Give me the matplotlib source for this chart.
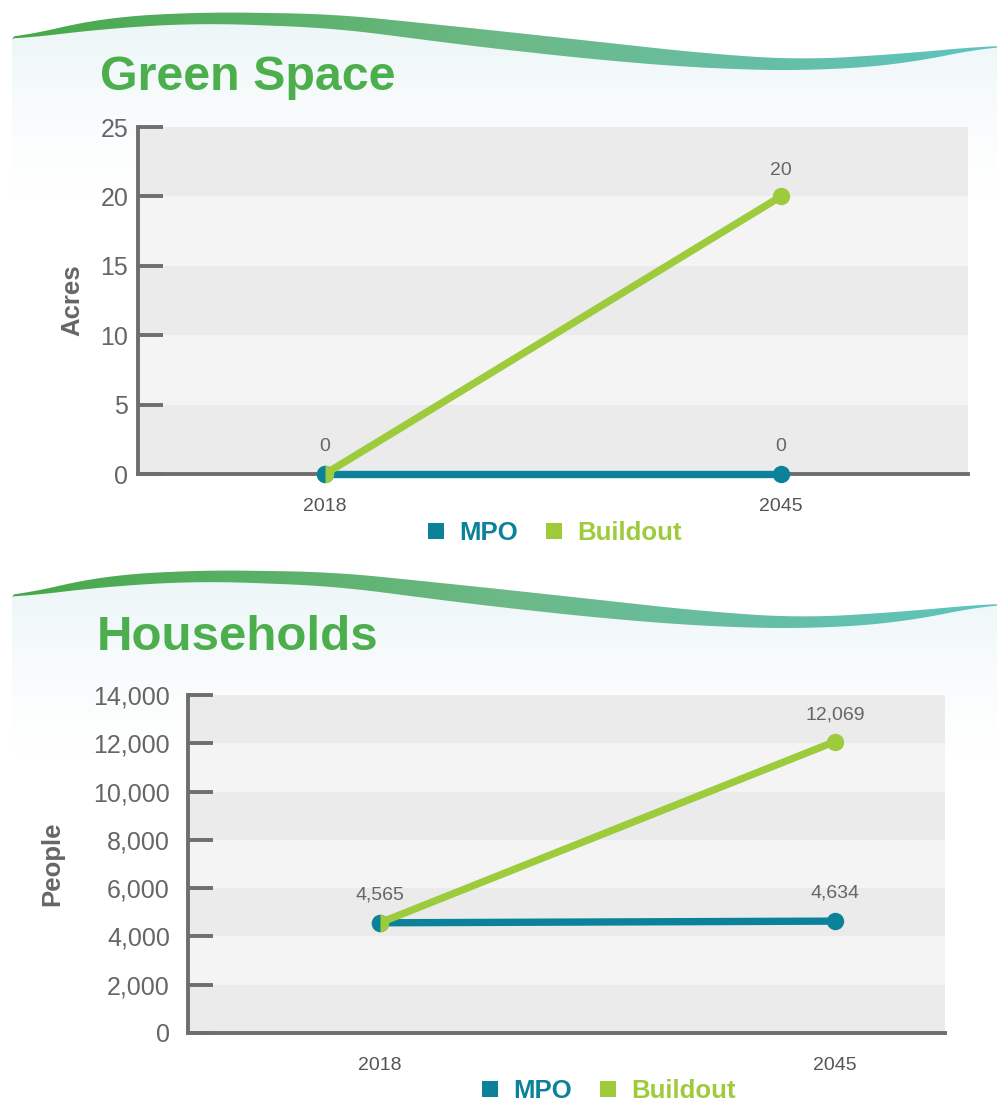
import numpy as np
import matplotlib.pyplot as plt
from matplotlib.path import Path
from matplotlib.patches import PathPatch
from matplotlib.lines import Line2D
from matplotlib.colors import LinearSegmentedColormap
from matplotlib import ticker

plt.rcParams['font.family'] = ['Liberation Sans', 'DejaVu Sans']

# data
years = ['2018', '2045']
green_mpo = [0, 0]
green_buildout = [0, 20]
hh_mpo = [4565, 4634]
hh_buildout = [4565, 12069]

TEAL = '#0b819a'
LIME = '#9dcb3b'
SPINE = '#6e6e6e'
TITLE = '#4cae4c'

W, H = 997, 1103
fig = plt.figure(figsize=(W / 100, H / 100), dpi=100)

# decorative header: wave band + light background
bg = fig.add_axes([0, 0, 1, 1], zorder=0)
bg.axis('off')

wave_x = [12, 60, 100, 200, 333, 480, 600, 700, 800, 900, 997]
wave_up = [40, 27, 18, 12, 14, 29, 42, 53, 60, 54, 45]
wave_lo = [40, 34, 29, 23, 28, 47, 60, 68, 71, 65, 45]
wave_cmap = LinearSegmentedColormap.from_list('wave', ['#46a848', '#6db987', '#5ec4c1'])


def smooth(v, k=25):
    pad = np.pad(v, k, mode='edge')
    ker = np.ones(2 * k + 1) / (2 * k + 1)
    return np.convolve(pad, ker, mode='same')[k:-k]


def header(offset, fade):
    xs = np.linspace(12, 997, 500)
    up = smooth(np.interp(xs, wave_x, wave_up)) + offset
    lo = smooth(np.interp(xs, wave_x, wave_lo)) + offset
    up[0] = lo[0] = 40 + offset
    # light background under the wave
    verts = list(zip(xs, up)) + [(997, offset + fade), (12, offset + fade)]
    patch = PathPatch(Path(verts + [verts[0]], closed=True), fc='none', ec='none')
    bg.add_patch(patch)
    grad = np.zeros((100, 2, 4))
    grad[..., 0], grad[..., 1], grad[..., 2] = 0.925, 0.962, 0.972
    grad[..., 3] = np.linspace(1, 0, 100)[:, None] ** 1.3
    im = bg.imshow(grad, extent=(12, 997, offset + fade, offset + 10), origin='upper',
                   aspect='auto', interpolation='bilinear', zorder=1)
    im.set_clip_path(patch)
    # the wave band
    bverts = list(zip(xs, up)) + list(zip(xs[::-1], lo[::-1]))
    bpatch = PathPatch(Path(bverts + [bverts[0]], closed=True), fc='none', ec='none')
    bg.add_patch(bpatch)
    im2 = bg.imshow(np.linspace(0, 1, 256)[None, :], cmap=wave_cmap,
                    extent=(12, 997, offset + 90, offset), aspect='auto', zorder=2)
    im2.set_clip_path(bpatch)


header(0, 200)
header(558, 200)
bg.set_xlim(0, W)
bg.set_ylim(H, 0)

bg.text(100, 90, 'Green Space', fontsize=34.8, fontweight='bold', color=TITLE, va='baseline')
bg.text(97, 650, 'Households', fontsize=35.5, fontweight='bold', color=TITLE, va='baseline')


def chart(rect, mpo, build, ymax, step, xlim, ylabel, ylabel_x, ypad, legend_xy):
    ax = fig.add_axes(rect, zorder=2)
    ax.patch.set_alpha(0)
    x = np.arange(len(years))
    for i, lo in enumerate(range(0, ymax, step)):
        ax.axhspan(lo, lo + step, color='#ebebeb' if i % 2 == 0 else '#f4f4f4', lw=0, zorder=0)
    ax.plot(x, mpo, color=TEAL, lw=5.3, marker='o', ms=12.5, mew=0, zorder=3, clip_on=False)
    ax.plot(x, build, color=LIME, lw=5.3, marker='o', ms=12.5, mew=0, zorder=4, clip_on=False)
    ax.plot(x[:1], mpo[:1], ls='none', marker='o', ms=12.5, mew=0, color=TEAL, fillstyle='left',
            markerfacecoloralt='none', zorder=5, clip_on=False)
    for xi, v in zip(x, mpo):
        ax.annotate(f'{v:,}', (xi, v), xytext=(0, 20), textcoords='offset points',
                    ha='center', va='center', fontsize=14, color='#666666', zorder=6)
    for xi, v, m in zip(x, build, mpo):
        if v != m:
            ax.annotate(f'{v:,}', (xi, v), xytext=(0, 19), textcoords='offset points',
                        ha='center', va='center', fontsize=14, color='#666666', zorder=6)

    ax.set_xlim(*xlim)
    ax.set_ylim(0, ymax)
    ax.set_yticks(range(0, ymax + 1, step))
    ax.yaxis.set_major_formatter(ticker.StrMethodFormatter('{x:,.0f}'))
    ax.set_xticks(x, years)
    ax.tick_params(axis='y', direction='in', length=18, width=2.8, color=SPINE,
                   labelsize=18, labelcolor='#666666', pad=ypad)
    ax.tick_params(axis='x', length=0, labelsize=14, labelcolor='#555555', pad=17)
    for s in ['top', 'right']:
        ax.spines[s].set_visible(False)
    for s in ['left', 'bottom']:
        ax.spines[s].set_color(SPINE)
        ax.spines[s].set_linewidth(2.8)
    ax.set_ylabel(ylabel, fontsize=18.5, fontweight='bold', color='#666666', va='center')
    ax.yaxis.set_label_coords(ylabel_x, 0.5)

    handles = [Line2D([], [], ls='none', marker='s', ms=12, mew=0, color=TEAL, label='MPO'),
               Line2D([], [], ls='none', marker='s', ms=12, mew=0, color=LIME, label='Buildout')]
    fig.legend(handles=handles, loc='center', bbox_to_anchor=legend_xy, ncol=2, frameon=False,
               prop={'weight': 'bold', 'size': 18.5}, labelcolor='markerfacecolor',
               handlelength=0.8, handletextpad=0.5, columnspacing=1.0)
    return ax


def frac(l, r, t, b):
    return [l / W, 1 - b / H, (r - l) / W, (b - t) / H]


chart(frac(138, 968, 127, 474), green_mpo, green_buildout, 25, 5, (-0.41, 1.41),
      'Acres', (72 - 138) / 830, 7, (554 / W, 1 - 533 / H))
chart(frac(188, 945, 695, 1033), hh_mpo, hh_buildout, 14000, 2000, (-0.422, 1.242),
      'People', (52 - 188) / 757, 13, (608 / W, 1 - 1091 / H))

fig.savefig('out.png', dpi=100)
